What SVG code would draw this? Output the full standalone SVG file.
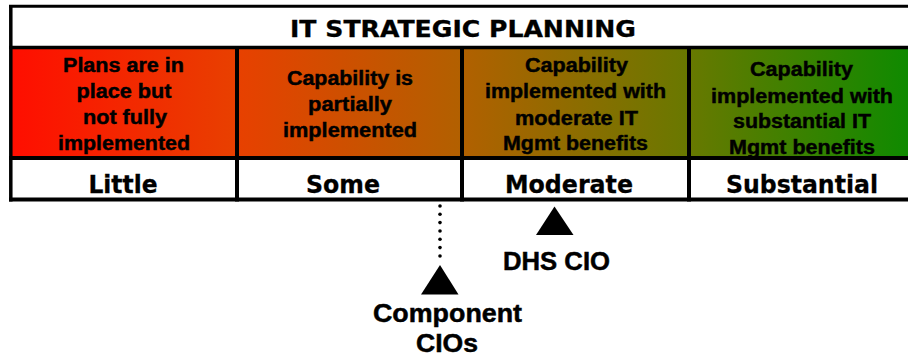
<svg xmlns="http://www.w3.org/2000/svg" width="908" height="360" viewBox="0 0 908 360">
<style>
.cell{font-family:"Liberation Sans",Arial,sans-serif;font-weight:bold;font-size:20px;fill:#000;stroke:#000;stroke-width:0.45;text-anchor:middle}
.lvl{font-family:"DejaVu Sans",Verdana,sans-serif;font-weight:bold;font-size:25px;fill:#000;stroke:#000;stroke-width:0.3;text-anchor:middle}
.ttl{font-family:"DejaVu Sans",Verdana,sans-serif;font-weight:bold;font-size:23px;fill:#000;stroke:#000;stroke-width:0.3;text-anchor:middle}
.lbl{font-family:"Liberation Sans",Arial,sans-serif;font-weight:bold;font-size:26px;fill:#000;stroke:#000;stroke-width:0.5}
.ln{stroke:#000;fill:none}
</style>
<defs>
<linearGradient id="g" gradientUnits="userSpaceOnUse" x1="12" y1="0" x2="908" y2="0">
<stop offset="0" stop-color="#ff0e00"/>
<stop offset="0.25" stop-color="#e84000"/>
<stop offset="0.5" stop-color="#b26000"/>
<stop offset="0.75" stop-color="#6a7800"/>
<stop offset="1" stop-color="#0f8a00"/>
</linearGradient>
</defs>
<rect x="0" y="0" width="908" height="360" fill="#fff"/>
<g id="table">
<rect x="12" y="49" width="900" height="107" fill="url(#g)"/>
<line class="ln" x1="9" y1="6.2" x2="914" y2="6.2" stroke-width="3"/>
<line class="ln" x1="9" y1="47.5" x2="914" y2="47.5" stroke-width="3.5"/>
<line class="ln" x1="9" y1="158" x2="914" y2="158" stroke-width="4"/>
<line class="ln" x1="9" y1="199.5" x2="914" y2="199.5" stroke-width="4"/>
<line class="ln" x1="10.8" y1="5" x2="10.8" y2="201.5" stroke-width="3.5"/>
<line class="ln" x1="237" y1="47" x2="237" y2="201.5" stroke-width="4"/>
<line class="ln" x1="462" y1="47" x2="462" y2="201.5" stroke-width="4"/>
<line class="ln" x1="689" y1="47" x2="689" y2="201.5" stroke-width="4"/>
</g>
<g id="title">
<text class="ttl" x="463" y="36.5" textLength="346" lengthAdjust="spacingAndGlyphs">IT STRATEGIC PLANNING</text>
</g>
<g id="col-little">
<text class="cell" x="123.5" y="72" textLength="121" lengthAdjust="spacingAndGlyphs">Plans are in</text>
<text class="cell" x="124" y="98" textLength="95" lengthAdjust="spacingAndGlyphs">place but</text>
<text class="cell" x="125" y="124" textLength="84" lengthAdjust="spacingAndGlyphs">not fully</text>
<text class="cell" x="124" y="150" textLength="132" lengthAdjust="spacingAndGlyphs">implemented</text>
<text class="lvl" x="123" y="193.3" textLength="69" lengthAdjust="spacingAndGlyphs">Little</text>
</g>
<g id="col-some">
<text class="cell" x="350" y="85" textLength="126" lengthAdjust="spacingAndGlyphs">Capability is</text>
<text class="cell" x="350" y="111" textLength="84" lengthAdjust="spacingAndGlyphs">partially</text>
<text class="cell" x="350" y="137" textLength="134" lengthAdjust="spacingAndGlyphs">implemented</text>
<text class="lvl" x="343" y="193.3" textLength="74" lengthAdjust="spacingAndGlyphs">Some</text>
</g>
<g id="col-moderate">
<text class="cell" x="576.5" y="72" textLength="103" lengthAdjust="spacingAndGlyphs">Capability</text>
<text class="cell" x="575.5" y="98" textLength="181" lengthAdjust="spacingAndGlyphs">implemented with</text>
<text class="cell" x="576.5" y="124.5" textLength="123" lengthAdjust="spacingAndGlyphs">moderate IT</text>
<text class="cell" x="575.5" y="150" textLength="145" lengthAdjust="spacingAndGlyphs">Mgmt benefits</text>
<text class="lvl" x="569" y="193.3" textLength="128" lengthAdjust="spacingAndGlyphs">Moderate</text>
</g>
<g id="col-substantial">
<text class="cell" x="801.5" y="76" textLength="103" lengthAdjust="spacingAndGlyphs">Capability</text>
<text class="cell" x="802" y="102.5" textLength="182" lengthAdjust="spacingAndGlyphs">implemented with</text>
<text class="cell" x="802" y="128" textLength="138" lengthAdjust="spacingAndGlyphs">substantial IT</text>
<text class="cell" x="802" y="154" textLength="146" lengthAdjust="spacingAndGlyphs">Mgmt benefits</text>
<text class="lvl" x="802" y="193.3" textLength="152" lengthAdjust="spacingAndGlyphs">Substantial</text>
</g>
<g id="connectors">
<g fill="#000">
<circle cx="440" cy="206" r="1.8"/>
<circle cx="440" cy="214.3" r="1.8"/>
<circle cx="440" cy="222.6" r="1.8"/>
<circle cx="440" cy="231" r="1.8"/>
<circle cx="440" cy="239.3" r="1.8"/>
<circle cx="440" cy="247.6" r="1.8"/>
<circle cx="440" cy="256" r="1.8"/>
</g>
</g>
<g id="component-cios">
<polygon points="440,265 421,294.5 458.5,294.5" fill="#000"/>
<text class="lbl" x="447.5" y="322" text-anchor="middle" textLength="149" lengthAdjust="spacingAndGlyphs">Component</text>
<text class="lbl" x="447" y="352" text-anchor="middle" textLength="62" lengthAdjust="spacingAndGlyphs">CIOs</text>
</g>
<g id="dhs-cio">
<polygon points="554.5,206.5 536,235 573.5,235" fill="#000"/>
<text class="lbl" x="503" y="270" textLength="107" lengthAdjust="spacingAndGlyphs">DHS CIO</text>
</g>
</svg>
